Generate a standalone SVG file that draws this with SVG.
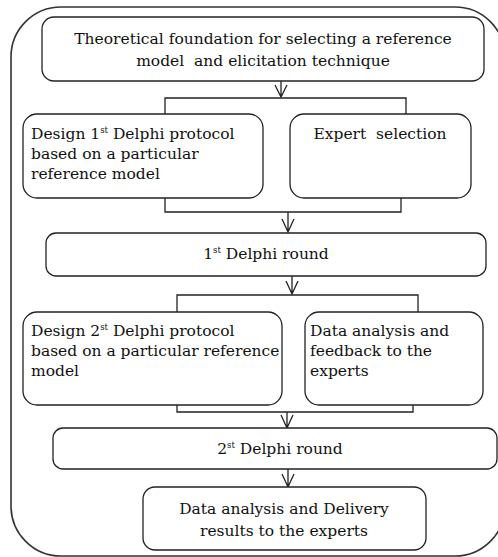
<svg xmlns="http://www.w3.org/2000/svg" width="498" height="557" viewBox="0 0 498 557">
<style>
.box{fill:#fff;stroke:#222;stroke-width:1.3}
.outer{fill:#fff;stroke:#333;stroke-width:1.6}
.con{fill:none;stroke:#222;stroke-width:1.3}
text{font-family:"DejaVu Serif","Liberation Serif",serif;font-size:15.5px;fill:#111;white-space:pre}
.c{text-anchor:middle}
.sup{font-size:8.5px}
</style>
<rect width="498" height="557" fill="#fff"/>
<rect class="outer" x="11" y="7" width="494" height="549" rx="50"/>
<g id="connectors">
<path class="con" d="M281,81V97M275,85L281,97L287,85"/>
<path class="con" d="M165,114V98H406V114"/>
<path class="con" d="M165,198V212H401V198M288,212V232M282,219L288,232L294,219"/>
<path class="con" d="M292,276V294M286,281L292,294L298,281"/>
<path class="con" d="M177,312V295H418V312"/>
<path class="con" d="M177,405V412H413V405M287,412V428M281,415L287,428L293,415"/>
<path class="con" d="M288,469V487M282,474L288,487L294,474"/>
</g>
<g id="n1">
<rect class="box" x="42" y="17" width="442" height="64" rx="12"/>
<text class="c" x="263" y="44">Theoretical foundation for selecting a reference</text>
<text class="c" x="263" y="66">model  and elicitation technique</text>
</g>
<g id="n2">
<rect class="box" x="23" y="114" width="240" height="84" rx="14"/>
<text x="31" y="139">Design 1<tspan class="sup" dy="-6">st</tspan><tspan dy="6"> Delphi protocol</tspan></text>
<text x="31" y="159">based on a particular</text>
<text x="31" y="179">reference model</text>
</g>
<g id="n3">
<rect class="box" x="290" y="114" width="181" height="84" rx="14"/>
<text class="c" x="380" y="139">Expert  selection</text>
</g>
<g id="n4">
<rect class="box" x="46" y="233" width="440" height="43" rx="10"/>
<text class="c" x="266" y="259">1<tspan class="sup" dy="-6">st</tspan><tspan dy="6"> Delphi round</tspan></text>
</g>
<g id="n5">
<rect class="box" x="23" y="312" width="259" height="93" rx="14"/>
<text x="31" y="336">Design 2<tspan class="sup" dy="-6">st</tspan><tspan dy="6"> Delphi protocol</tspan></text>
<text x="31" y="356">based on a particular reference</text>
<text x="31" y="376">model</text>
</g>
<g id="n6">
<rect class="box" x="305" y="312" width="178" height="93" rx="14"/>
<text x="310" y="336">Data analysis and</text>
<text x="310" y="356">feedback to the</text>
<text x="310" y="376">experts</text>
</g>
<g id="n7">
<rect class="box" x="53" y="428" width="444" height="41" rx="10"/>
<text class="c" x="280" y="454">2<tspan class="sup" dy="-6">st</tspan><tspan dy="6"> Delphi round</tspan></text>
</g>
<g id="n8">
<rect class="box" x="143" y="487" width="283" height="63" rx="12"/>
<text class="c" x="284" y="514">Data analysis and Delivery</text>
<text class="c" x="284" y="536">results to the experts</text>
</g>
</svg>
